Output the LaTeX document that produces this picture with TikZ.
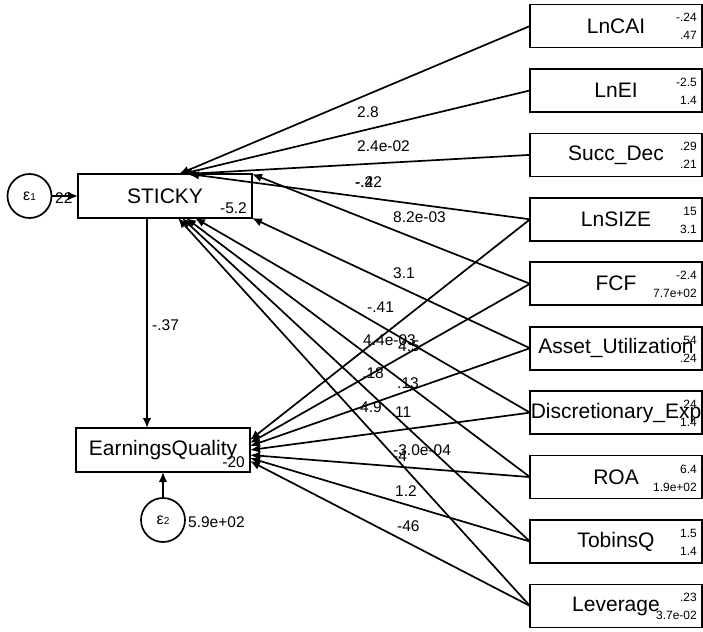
\documentclass[tikz,border=0pt]{standalone}
\usepackage{fontspec}
\setmainfont{Liberation Sans}
\usepackage{tikz}
\usetikzlibrary{arrows.meta,positioning}

\begin{document}
\begin{tikzpicture}[
  x=1pt, y=-1pt,
  endo/.style={draw, rectangle, line width=1.7pt, outer sep=0pt,
               minimum width=174pt, minimum height=44pt, inner sep=0pt,
               font=\fontsize{21}{21}\selectfont},
  exo/.style={draw, rectangle, line width=1.7pt, outer sep=0pt,
              minimum width=172pt, minimum height=43pt, inner sep=0pt,
              font=\fontsize{21}{21}\selectfont},
  err/.style={draw, circle, line width=1.7pt, outer sep=0pt,
              minimum size=44pt, inner sep=0pt},
  pathedge/.style={-{Latex[length=10pt,width=8.5pt]}, line width=1.7pt},
  coef/.style={anchor=base west, inner sep=0pt,
               font=\fontsize{15.5}{15.5}\selectfont},
  stat/.style={anchor=base east, inner sep=0pt,
               font=\fontsize{12}{12}\selectfont}
]
  \path[use as bounding box] (0,0) rectangle (703,631);

  % endogenous variables and errors
  \node[endo] (sticky) at (165,196) {STICKY};
  \node[endo] (eq) at (163,450) {EarningsQuality};
  \node[err, left=26.5pt of sticky] (e1)
    {\fontsize{16}{16}\selectfont ε\fontsize{10}{10}\selectfont 1};
  \node[err, below=26pt of eq] (e2)
    {\fontsize{16}{16}\selectfont ε\fontsize{10}{10}\selectfont 2};

  % exogenous variables
  \node[exo] (lncai) at (616,26) {LnCAI};
  \node[exo, below=21.44pt of lncai] (lnei) {LnEI};
  \node[exo, below=21.44pt of lnei] (succdec) {Succ\_Dec};
  \node[exo, below=21.44pt of succdec] (lnsize) {LnSIZE};
  \node[exo, below=21.44pt of lnsize] (fcf) {FCF};
  \node[exo, below=21.44pt of fcf] (assetu) {Asset\_Utilization};
  \node[exo, below=21.44pt of assetu] (discexp) {Discretionary\_Exp};
  \node[exo, below=21.44pt of discexp] (roa) {ROA};
  \node[exo, below=21.44pt of roa] (tobinsq) {TobinsQ};
  \node[exo, below=21.44pt of tobinsq] (leverage) {Leverage};

  % means and variances
  \node[stat] (lncaim) at ([shift={(-5,-4)}]lncai.east) {-.24};
  \node[stat] (lncaiv) at ([shift={(-5,14)}]lncai.east) {.47};
  \node[stat] (lneim) at ([shift={(-5,-4)}]lnei.east) {-2.5};
  \node[stat] (lneiv) at ([shift={(-5,14)}]lnei.east) {1.4};
  \node[stat] (succdecm) at ([shift={(-5,-4)}]succdec.east) {.29};
  \node[stat] (succdecv) at ([shift={(-5,14)}]succdec.east) {.21};
  \node[stat] (lnsizem) at ([shift={(-5,-4)}]lnsize.east) {15};
  \node[stat] (lnsizev) at ([shift={(-5,14)}]lnsize.east) {3.1};
  \node[stat] (fcfm) at ([shift={(-5,-4)}]fcf.east) {-2.4};
  \node[stat] (fcfv) at ([shift={(-5,14)}]fcf.east) {7.7e+02};
  \node[stat] (assetum) at ([shift={(-5,-4)}]assetu.east) {.54};
  \node[stat] (assetuv) at ([shift={(-5,14)}]assetu.east) {.24};
  \node[stat] (discexpm) at ([shift={(-5,-4)}]discexp.east) {.24};
  \node[stat] (discexpv) at ([shift={(-5,14)}]discexp.east) {1.4};
  \node[stat] (roam) at ([shift={(-5,-4)}]roa.east) {6.4};
  \node[stat] (roav) at ([shift={(-5,14)}]roa.east) {1.9e+02};
  \node[stat] (tobinsqm) at ([shift={(-5,-4)}]tobinsq.east) {1.5};
  \node[stat] (tobinsqv) at ([shift={(-5,14)}]tobinsq.east) {1.4};
  \node[stat] (leveragem) at ([shift={(-5,-4)}]leverage.east) {.23};
  \node[stat] (leveragev) at ([shift={(-5,14)}]leverage.east) {3.7e-02};

  % intercepts and error variances
  \node[coef, anchor=base east] (stickycons)
    at ([shift={(-5,-5)}]sticky.south east) {-5.2};
  \node[coef, anchor=base east] (eqcons)
    at ([shift={(-5,-5)}]eq.south east) {-20};
  \node[coef] (e1var) at (55,203) {22};
  \node[coef] (e2var) at (188,527) {5.9e+02};

  % paths
  \draw[pathedge] (e1) -- (sticky.west);
  \draw[pathedge] (e2) -- (eq.south);
  \draw[pathedge] ([xshift=-18pt]sticky.south) -- ([xshift=-16pt]eq.north);
  \draw[pathedge] (lncai.west) -- ([xshift=14pt]sticky.north);
  \draw[pathedge] (lnei.west) -- ([xshift=17pt]sticky.north);
  \draw[pathedge] (succdec.west) -- ([xshift=21pt]sticky.north);
  \draw[pathedge] (lnsize.west) -- ([xshift=24pt]sticky.north);
  \draw[pathedge] (fcf.west) -- (sticky.north east);
  \draw[pathedge] (assetu.west) -- (sticky.south east);
  \draw[pathedge] (discexp.west) -- ([xshift=30pt]sticky.south);
  \draw[pathedge] (roa.west) -- ([xshift=21pt]sticky.south);
  \draw[pathedge] (tobinsq.west) -- ([xshift=17pt]sticky.south);
  \draw[pathedge] (leverage.west) -- ([xshift=13pt]sticky.south);
  \draw[pathedge] (lnsize.west) -- ([yshift=10pt]eq.east);
  \draw[pathedge] (fcf.west) -- ([yshift=7pt]eq.east);
  \draw[pathedge] (assetu.west) -- ([yshift=4pt]eq.east);
  \draw[pathedge] (discexp.west) -- (eq.east);
  \draw[pathedge] (roa.west) -- ([yshift=-5pt]eq.east);
  \draw[pathedge] (tobinsq.west) -- ([yshift=-8pt]eq.east);
  \draw[pathedge] (leverage.west) -- ([yshift=-11pt]eq.east);

  % path coefficients
  \node[coef] (k1) at (357,118) {2.8};
  \node[coef] (k2) at (357,152) {2.4e-02};
  \node[coef] (k3) at (355,187) {-.42};
  \node[coef] (k4) at (355,187) {-.2};
  \node[coef] (k5) at (393,222) {8.2e-03};
  \node[coef] (k6) at (393,278) {3.1};
  \node[coef] (k7) at (367,312) {-.41};
  \node[coef] (k8) at (363,345) {4.4e-03};
  \node[coef] (k9) at (398,351) {4.5};
  \node[coef] (k10) at (362,378) {.18};
  \node[coef] (k11) at (397,388) {.13};
  \node[coef] (k12) at (360,412) {4.9};
  \node[coef] (k13) at (395,417) {11};
  \node[coef] (k14) at (393,455) {-3.0e-04};
  \node[coef] (k15) at (393,461) {-4};
  \node[coef] (k16) at (395,496) {1.2};
  \node[coef] (k17) at (397,531) {-46};
  \node[coef] (k18) at (152,330) {-.37};
\end{tikzpicture}
\end{document}
